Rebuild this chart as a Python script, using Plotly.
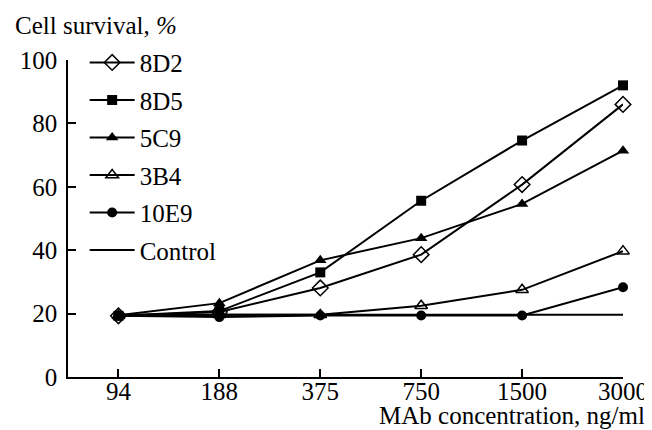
import plotly.graph_objects as go

concentrations = ["94", "188", "375", "750", "1500", "3000"]
s_8D2 = [19.3, 20.5, 28.1, 38.6, 60.7, 86.0]
s_8D5 = [19.3, 20.8, 33.0, 55.6, 74.6, 92.0]
s_5C9 = [19.5, 23.3, 36.8, 43.8, 54.6, 71.4]
s_3B4 = [19.3, 19.6, 19.6, 22.5, 27.5, 39.7]
s_10E9 = [19.3, 18.9, 19.4, 19.4, 19.4, 28.3]
control = [19.6, 19.6, 19.6, 19.6, 19.6, 19.6]

FONT = "Liberation Serif"
fig = go.Figure()

series = [
    ("8D2", s_8D2, dict(symbol="diamond-open", size=12, color="black", line=dict(width=1.5, color="black"))),
    ("8D5", s_8D5, dict(symbol="square", size=10, color="black")),
    ("5C9", s_5C9, dict(symbol="triangle-up", size=11, color="black")),
    ("3B4", s_3B4, dict(symbol="triangle-up-open", size=11, color="black", line=dict(width=1.5, color="black"))),
    ("10E9", s_10E9, dict(symbol="circle", size=10, color="black")),
]
for name, vals, mk in series:
    fig.add_trace(go.Scatter(x=concentrations, y=vals, name=name, mode="lines+markers",
                             line=dict(color="black", width=2), marker=mk,
                             cliponaxis=False, legendgroup=name))
fig.add_trace(go.Scatter(x=concentrations, y=control, name="Control", mode="lines",
                         line=dict(color="black", width=2), cliponaxis=False, legendgroup="Control"))

fig.update_layout(
    width=652, height=430,
    margin=dict(l=58, r=29, t=52, b=61),
    plot_bgcolor="white", paper_bgcolor="white",
    font=dict(family=FONT, size=25, color="black"),
    showlegend=True,
    legend=dict(x=0.03, y=1.064, xanchor="left", yanchor="top", bgcolor="rgba(0,0,0,0)",
                font=dict(family=FONT, size=25, color="black"), tracegroupgap=2, itemwidth=45, maxheight=400),
    xaxis=dict(type="category", range=[-0.5, 5.0], showline=True, linecolor="black", linewidth=1.5,
               ticks="inside", ticklen=8, tickwidth=1.5, tickcolor="black", showgrid=False,
               zeroline=False, ticklabelstandoff=-9, tickfont=dict(family=FONT, size=25, color="black")),
    yaxis=dict(range=[0, 100], tickvals=[0, 20, 40, 60, 80, 100], showline=True, linecolor="black",
               linewidth=1.5, ticks="inside", ticklen=8, tickwidth=1.5, tickcolor="black",
               showgrid=False, zeroline=False, ticklabelstandoff=4,
               tickfont=dict(family=FONT, size=25, color="black")),
    annotations=[
        dict(text="Cell survival, <i>%</i>", xref="paper", yref="paper", x=-0.1, y=1.0, yshift=19,
             xanchor="left", yanchor="bottom", showarrow=False, font=dict(family=FONT, size=25, color="black")),
        dict(text="MAb concentration, ng/ml", xref="paper", yref="paper", x=1.044, y=0, yshift=-54,
             xanchor="right", yanchor="bottom", showarrow=False, font=dict(family=FONT, size=25, color="black")),
    ],
)
fig.write_html("out.html")
